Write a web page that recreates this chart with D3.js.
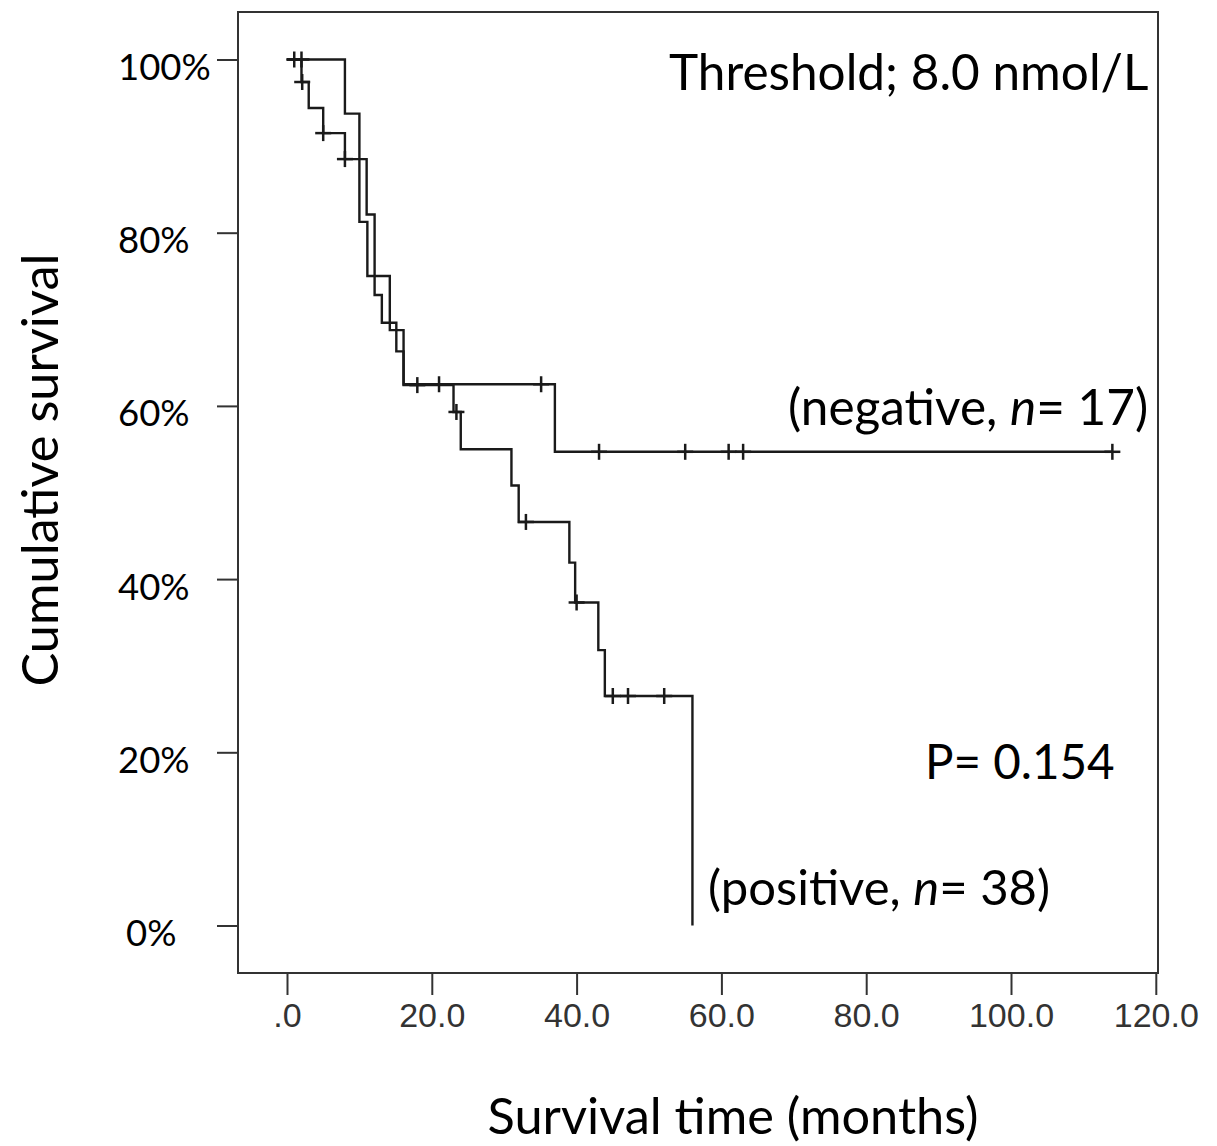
<!DOCTYPE html>
<html>
<head>
<meta charset="utf-8">
<script src="https://cdn.jsdelivr.net/npm/d3@7"></script>
<style>
  body { margin: 0; background: #fff; }
  svg text { font-family: Lato, "Open Sans", sans-serif; fill: #000; }
</style>
</head>
<body>
<div id="km-chart"></div>
<script>
// step points of each group (months, cumulative survival)
var negTimes = [0, 8.0, 10.0, 11.1, 14.2, 16.1, 37.0, 114.0];
var negSurv  = [1, 0.9375, 0.8125, 0.75, 0.6875, 0.625, 0.547, 0.547];
var negCensored = [1.0, 2.0, 21.0, 35.1, 43.1, 55.0, 61.0, 63.0, 114.0];

var posTimes = [0, 2.0, 3.0, 5.0, 8.0, 11.0, 12.1, 13.1, 15.1, 16.1, 23.0, 24.0, 31.0, 32.0, 39.0, 39.8, 43.0, 43.9, 56.0];
var posSurv  = [1, 0.974, 0.944, 0.915, 0.885, 0.821, 0.728, 0.696, 0.663, 0.624, 0.593, 0.55, 0.508, 0.466, 0.419, 0.373, 0.318, 0.265, 0];
var posCensored = [2.1, 5.0, 8.0, 18.0, 23.4, 33.0, 40.0, 45.0, 47.1, 52.1];

var xTicks = [0, 20, 40, 60, 80, 100, 120];
var yTicks = [0, 0.2, 0.4, 0.6, 0.8, 1.0];

drawKMChart();

function drawKMChart() {
	var width = 1217, height = 1146;
	var box = {left: 238, top: 12, right: 1158, bottom: 973};

	var svg = d3.select("#km-chart").append("svg")
		.attr("width", width).attr("height", height);

	var x = d3.scaleLinear().domain([0, 120]).range([287, 1155.8]);
	var y = d3.scaleLinear().domain([0, 1]).range([925.5, 59.5]);

	// frame
	svg.append("rect")
		.attr("x", box.left).attr("y", box.top)
		.attr("width", box.right - box.left).attr("height", box.bottom - box.top)
		.attr("fill", "none").attr("stroke", "#333").attr("stroke-width", 2);

	// x axis
	var gx = svg.append("g")
		.attr("transform", "translate(0," + box.bottom + ")")
		.call(d3.axisBottom(x).tickValues(xTicks).tickSize(22).tickPadding(8)
			.tickFormat(function(d) { return d === 0 ? ".0" : d.toFixed(1); }));
	gx.select(".domain").remove();
	gx.selectAll("line").attr("stroke", "#333").attr("stroke-width", 2);
	gx.selectAll("text")
		.style("font-family", "'Liberation Sans', Arial, sans-serif")
		.style("font-size", "34px").style("fill", "#333");

	// y axis
	var gy = svg.append("g")
		.attr("transform", "translate(" + box.left + ",0)")
		.call(d3.axisLeft(y).tickValues(yTicks).tickSize(21)
			.tickFormat(d3.format(".0%")));
	gy.select(".domain").remove();
	gy.selectAll("line").attr("stroke", "#333").attr("stroke-width", 2);
	gy.selectAll("text")
		.attr("text-anchor", "start")
		.attr("x", function(d) { return d === 0 ? -112 : -120; })
		.attr("dy", "0.55em")
		.style("font-size", "36.5px");

	// survival curves
	var line = d3.line()
		.x(function(d) { return x(d[0]); })
		.y(function(d) { return y(d[1]); })
		.curve(d3.curveStepAfter);

	var groups = [
		{times: negTimes, surv: negSurv, censored: negCensored},
		{times: posTimes, surv: posSurv, censored: posCensored}
	];

	groups.forEach(function(g) {
		var pts = g.times.map(function(t, i) { return [t, g.surv[i]]; });
		svg.append("path")
			.datum(pts)
			.attr("d", line)
			.attr("fill", "none")
			.attr("stroke", "#1a1a1a")
			.attr("stroke-width", 2.4);

		// censor marks
		var marks = svg.append("g");
		g.censored.forEach(function(t) {
			var s = g.surv[d3.bisectRight(g.times, t) - 1];
			var cx = x(t), cy = y(s);
			marks.append("line")
				.attr("x1", cx - 8).attr("x2", cx + 8)
				.attr("y1", cy).attr("y2", cy)
				.attr("stroke", "#1a1a1a").attr("stroke-width", 2.5);
			marks.append("line")
				.attr("x1", cx).attr("x2", cx)
				.attr("y1", cy - 8).attr("y2", cy + 8)
				.attr("stroke", "#1a1a1a").attr("stroke-width", 2.5);
		});
	});

	// annotations
	svg.append("text").attr("x", 669).attr("y", 90)
		.style("font-size", "49.5px").text("Threshold; 8.0 nmol/L");

	var neg = svg.append("text").attr("x", 788).attr("y", 425).style("font-size", "49.5px");
	neg.append("tspan").text("(negative, ");
	neg.append("tspan").style("font-style", "italic").text("n");
	neg.append("tspan").text("= 17)");

	svg.append("text").attr("x", 925).attr("y", 779)
		.style("font-size", "47.5px").text("P= 0.154");

	var pos = svg.append("text").attr("x", 708).attr("y", 905).style("font-size", "49px");
	pos.append("tspan").text("(positive, ");
	pos.append("tspan").style("font-style", "italic").text("n");
	pos.append("tspan").text("= 38)");

	// axis titles
	svg.append("text")
		.attr("transform", "translate(58,470) rotate(-90)")
		.attr("text-anchor", "middle")
		.style("font-size", "50.5px").text("Cumulative survival");

	svg.append("text")
		.attr("x", 733).attr("y", 1134)
		.attr("text-anchor", "middle")
		.style("font-size", "50.5px").text("Survival time (months)");
}
</script>
</body>
</html>
